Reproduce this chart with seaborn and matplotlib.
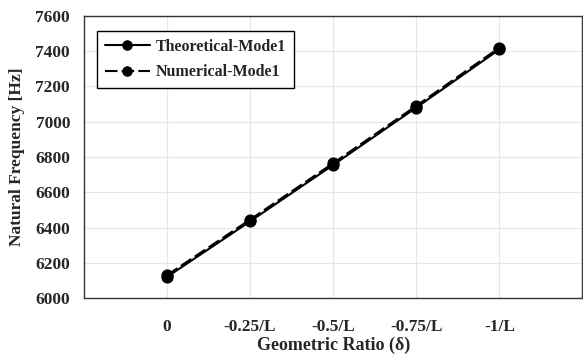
import numpy as np
import pandas as pd
import matplotlib
matplotlib.use("Agg")
import matplotlib.pyplot as plt
import seaborn as sns

ratios = ["0", "-0.25/L", "-0.5/L", "-0.75/L", "-1/L"]
theoretical = [6120, 6435, 6755, 7080, 7410]
numerical = [6130, 6445, 6765, 7090, 7420]

df = pd.DataFrame({
    "x": list(range(len(ratios))) * 2,
    "freq": theoretical + numerical,
    "series": ["Theoretical-Mode1"] * 5 + ["Numerical-Mode1"] * 5,
})

sns.set_style("whitegrid")
plt.rcParams["font.family"] = ["Liberation Serif", "DejaVu Serif"]
plt.rcParams["font.weight"] = "bold"

fig = plt.figure(figsize=(5.83, 3.54), dpi=100)
ax = fig.add_axes([0.144, 0.158, 0.855, 0.797])

sns.lineplot(data=df, x="x", y="freq", style="series", ax=ax,
             color="black", markers=["o", "o"], dashes=[(None, None), (6, 2)],
             markersize=8, linewidth=1.5, markeredgecolor="black")

ax.set_xlim(-1, 5)
ax.set_ylim(6000, 7600)
ax.set_xticks(range(len(ratios)))
ax.set_xticklabels(ratios, fontsize=12.5, fontweight="bold")
ax.set_yticks(np.arange(6000, 7601, 200))
ax.set_yticklabels([str(v) for v in range(6000, 7601, 200)], fontsize=12.5, fontweight="bold")
ax.set_xlabel("Geometric Ratio (δ)", fontsize=13, fontweight="bold", labelpad=1)
ax.set_ylabel("Natural Frequency [Hz]", fontsize=12.5, fontweight="bold", labelpad=7)

ax.grid(True, color="#e6e6e6", linewidth=0.8)
for s in ["left", "bottom", "top", "right"]:
    ax.spines[s].set_color("#333333")
    ax.spines[s].set_linewidth(1.0)
ax.tick_params(axis="both", direction="out", length=4, width=0.8, color="#333333")
ax.tick_params(axis="x", pad=11)
ax.tick_params(axis="y", pad=6)

leg = ax.legend(loc="upper left", bbox_to_anchor=(0.026, 0.947), frameon=True, fancybox=False,
                edgecolor="black", framealpha=1, handlelength=2.8, handletextpad=0.4,
                borderpad=0.5, borderaxespad=0, labelspacing=0.6, markerscale=0.85,
                prop={"family": "Liberation Serif", "weight": "bold", "size": 11.5})
leg.get_frame().set_linewidth(1.0)

fig.savefig("out.png", dpi=100)
